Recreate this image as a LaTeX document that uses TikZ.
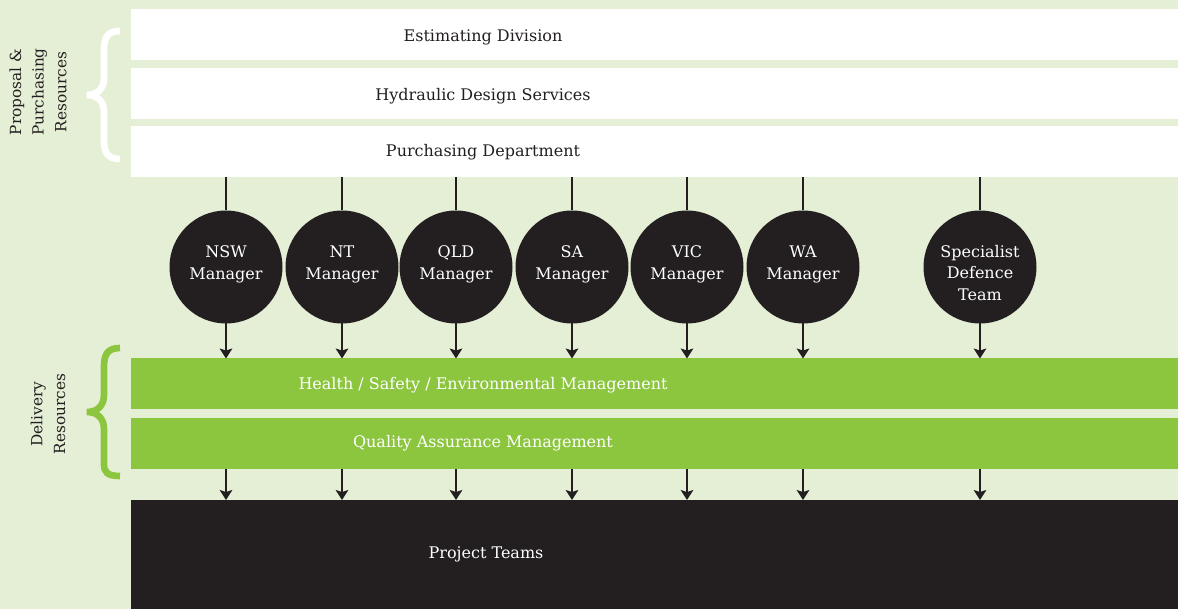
\documentclass[tikz,border=0pt]{standalone}
\usepackage{fontspec}
\setmainfont{DejaVu Serif}
\usetikzlibrary{arrows.meta}
\definecolor{bggreen}{HTML}{E5EFD6}
\definecolor{bargreen}{HTML}{8CC63F}
\definecolor{inkblack}{HTML}{231F20}
\begin{document}
\begin{tikzpicture}[x=0.75pt,y=0.75pt,yscale=-1,xscale=1,
  whitebar/.style={fill=white,minimum width=785.25pt,minimum height=38.25pt,inner sep=0pt,outer sep=0pt},
  greenbar/.style={fill=bargreen,minimum width=785.25pt,minimum height=38.25pt,inner sep=0pt,outer sep=0pt},
  barlabel/.style={text=inkblack,font=\fontsize{12}{14}\selectfont},
  manager/.style={circle,fill=inkblack,minimum size=84.75pt,inner sep=0pt,outer sep=0pt},
  mgrlabel/.style={text=white,align=center,font=\fontsize{12}{16.5}\selectfont},
  sidelabel/.style={rotate=90,align=center,text=inkblack,font=\fontsize{11.5}{17}\selectfont},
  link/.style={draw=inkblack,line width=1.1pt},
  arr/.style={link,-{Stealth[length=7.5pt,width=9.5pt,inset=1.5pt]}}]
\useasboundingbox (0,0) rectangle (1178,609);
\fill [bggreen] (0,0) rectangle (1178,609);
\node [whitebar] (est) at (654.5,34.5) {};
\node [whitebar] (hyd) at (654.5,93.5) {};
\node [whitebar] (purch) at (654.5,152) {};
\node [barlabel] (estT) at (483,37.5) {Estimating Division};
\node [barlabel] (hydT) at (483,96.5) {Hydraulic Design Services};
\node [barlabel] (purchT) at (483,152.5) {Purchasing Department};
\node [greenbar] (hsem) at (654.5,384) {};
\node [greenbar] (qam) at (654.5,443.5) {};
\node [barlabel,text=white] (hsemT) at (483,385.5) {Health / Safety / Environmental Management};
\node [barlabel,text=white] (qamT) at (483,443.5) {Quality Assurance Management};
\node [fill=inkblack,minimum width=785.25pt,minimum height=81.75pt,inner sep=0pt,outer sep=0pt] (teams) at (654.5,554.5) {};
\node [barlabel,text=white] (teamsT) at (486,554.5) {Project Teams};
\node [manager] (nsw) at (226,267) {};
\node [manager] (nt) at (342,267) {};
\node [manager] (qld) at (456,267) {};
\node [manager] (sa) at (572,267) {};
\node [manager] (vic) at (687,267) {};
\node [manager] (wa) at (803,267) {};
\node [manager] (sdt) at (980,267) {};
\node [mgrlabel] (nswT) at (226,264) {NSW\\Manager};
\node [mgrlabel] (ntT) at (342,264) {NT\\Manager};
\node [mgrlabel] (qldT) at (456,264) {QLD\\Manager};
\node [mgrlabel] (saT) at (572,264) {SA\\Manager};
\node [mgrlabel] (vicT) at (687,264) {VIC\\Manager};
\node [mgrlabel] (waT) at (803,264) {WA\\Manager};
\node [mgrlabel,font=\fontsize{12}{16}\selectfont] (sdtT) at (980,273) {Specialist\\Defence\\Team};
\draw [link] (purch.south -| nsw) -- (nsw);
\draw [link] (purch.south -| nt) -- (nt);
\draw [link] (purch.south -| qld) -- (qld);
\draw [link] (purch.south -| sa) -- (sa);
\draw [link] (purch.south -| vic) -- (vic);
\draw [link] (purch.south -| wa) -- (wa);
\draw [link] (purch.south -| sdt) -- (sdt);
\draw [arr] (nsw) -- (nsw |- hsem.north);
\draw [arr] (nt) -- (nt |- hsem.north);
\draw [arr] (qld) -- (qld |- hsem.north);
\draw [arr] (sa) -- (sa |- hsem.north);
\draw [arr] (vic) -- (vic |- hsem.north);
\draw [arr] (wa) -- (wa |- hsem.north);
\draw [arr] (sdt) -- (sdt |- hsem.north);
\draw [arr] (qam.south -| nsw) -- (teams.north -| nsw);
\draw [arr] (qam.south -| nt) -- (teams.north -| nt);
\draw [arr] (qam.south -| qld) -- (teams.north -| qld);
\draw [arr] (qam.south -| sa) -- (teams.north -| sa);
\draw [arr] (qam.south -| vic) -- (teams.north -| vic);
\draw [arr] (qam.south -| wa) -- (teams.north -| wa);
\draw [arr] (qam.south -| sdt) -- (teams.north -| sdt);
\draw [white,line width=5pt] (120,31) .. controls (107,31) and (104,38) .. (104,50) -- (104,78) .. controls (104,89) and (97,95) .. (87,95) .. controls (97,95) and (104,101) .. (104,112) -- (104,140) .. controls (104,152) and (107,159) .. (120,159);
\draw [bargreen,line width=5pt] (120,348) .. controls (107,348) and (104,355) .. (104,367) -- (104,395) .. controls (104,406) and (97,412) .. (87,412) .. controls (97,412) and (104,418) .. (104,429) -- (104,464) .. controls (104,472) and (107,476) .. (120,476);
\node [sidelabel] (propL) at (38,92) {Proposal \&\\Purchasing\\Resources};
\node [sidelabel] (delivL) at (48,414) {Delivery\\Resources};
\end{tikzpicture}
\end{document}
